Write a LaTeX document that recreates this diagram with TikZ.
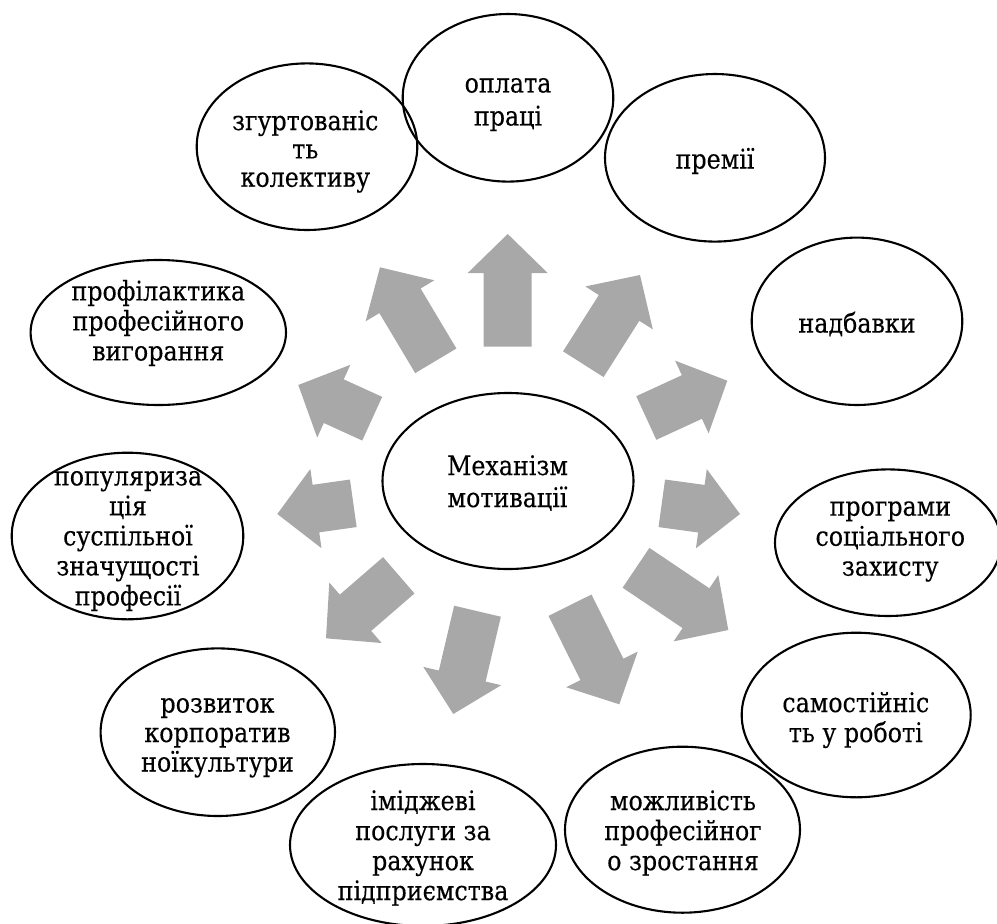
\documentclass[tikz,border=0pt]{standalone}
\usepackage{fontspec}
\setmainfont{DejaVu Serif}[FakeStretch=0.88,FakeBold=0.3]
\usetikzlibrary{calc}
\definecolor{arrowgray}{RGB}{168,168,168}
\newcommand{\garrow}[2]{%
  \coordinate (nk) at ($(#2)!39pt!(#1)$);
  \fill[arrowgray]
    ($(#1)!24pt!90:(#2)$) -- ($(nk)!24pt!90:(#2)$) -- ($(nk)!40pt!90:(#2)$) --
    (#2) --
    ($(nk)!40pt!-90:(#2)$) -- ($(nk)!24pt!-90:(#2)$) -- ($(#1)!24pt!-90:(#2)$) -- cycle;}
\tikzset{
  ell/.style={draw=black, line width=2.1pt},
  lbl/.style={align=center, inner sep=0pt, font=\rmfamily\fontsize{27}{30}\selectfont},
}
\begin{document}
\begin{tikzpicture}[x=1pt,y=-1pt]
\useasboundingbox (0,0) rectangle (997,924);

% arrows: base midpoint and tip
\coordinate (b1) at (507.7,346.7);  \coordinate (t1) at (507.7,234);
\coordinate (b2) at (583.3,364.2);  \coordinate (t2) at (640,275);
\coordinate (b3) at (646.3,418);    \coordinate (t3) at (727.3,380.7);
\coordinate (b4) at (661.8,503.3);  \coordinate (t4) at (740,514);
\coordinate (b5) at (636,567.8);    \coordinate (t5) at (728.3,630);
\coordinate (b6) at (570,605.2);    \coordinate (t6) at (619.3,704.3);
\coordinate (b7) at (477.5,611.2);  \coordinate (t7) at (453.3,714);
\coordinate (b8) at (398.8,575.3);  \coordinate (t8) at (326,638.3);
\coordinate (b9) at (353.3,503.3);  \coordinate (t9) at (277.3,514);
\coordinate (b10) at (372.2,418.7); \coordinate (t10) at (298.3,385);
\coordinate (b11) at (435.8,360.8); \coordinate (t11) at (380,267.3);
\garrow{b1}{t1}
\garrow{b2}{t2}
\garrow{b3}{t3}
\garrow{b4}{t4}
\garrow{b5}{t5}
\garrow{b6}{t6}
\garrow{b7}{t7}
\garrow{b8}{t8}
\garrow{b9}{t9}
\garrow{b10}{t10}
\garrow{b11}{t11}

% ellipses
\draw[ell] (508,481) ellipse (125.5 and 88);
\draw[ell] (508,97.8) ellipse (105.3 and 83.8);
\draw[ell] (715,157.8) ellipse (110 and 83.8);
\draw[ell] (857,321.3) ellipse (105.3 and 83.7);
\draw[ell] (888,542.7) ellipse (113 and 73.3);
\draw[ell] (856.2,715) ellipse (114.5 and 82.3);
\draw[ell] (682.5,829.7) ellipse (117.5 and 83);
\draw[ell] (423,845) ellipse (133 and 81);
\draw[ell] (217.8,732.2) ellipse (117.2 and 83.8);
\draw[ell] (127.5,536) ellipse (115.8 and 83.3);
\draw[ell] (158.3,332.5) ellipse (127.7 and 72.5);
\draw[ell] (307,146.7) ellipse (110.3 and 83.3);

% labels
\node[lbl, font=\rmfamily\fontsize{27}{32}\selectfont] (lc) at (507.5,483) {Механізм\\мотивації};
\node[lbl, font=\rmfamily\fontsize{27}{33}\selectfont] (l1) at (508,104.6) {оплата\\праці};
\node[lbl] (l2) at (715,161) {премії};
\node[lbl] (l3) at (857,324) {надбавки};
\node[lbl] (l4) at (890.3,541.5) {програми\\соціального\\захисту};
\node[lbl] (l5) at (855.8,720) {самостійніс\\ть у роботі};
\node[lbl] (l6) at (683,833) {можливість\\професійног\\о зростання};
\node[lbl] (l7) at (423,848) {іміджеві\\послуги за\\рахунок\\підприємства};
\node[lbl, font=\rmfamily\fontsize{27}{29.5}\selectfont] (l8) at (217.5,737.8) {розвиток\\корпоратив\\ноїкультури};
\node[lbl] (l9) at (128,541) {популяриза\\ція\\суспільної\\значущості\\професії};
\node[lbl] (l10) at (158.3,323) {профілактика\\професійного\\вигорання};
\node[lbl, font=\rmfamily\fontsize{27}{28.3}\selectfont] (l11) at (305.3,151.5) {згуртованіс\\ть\\колективу};
\end{tikzpicture}
\end{document}
